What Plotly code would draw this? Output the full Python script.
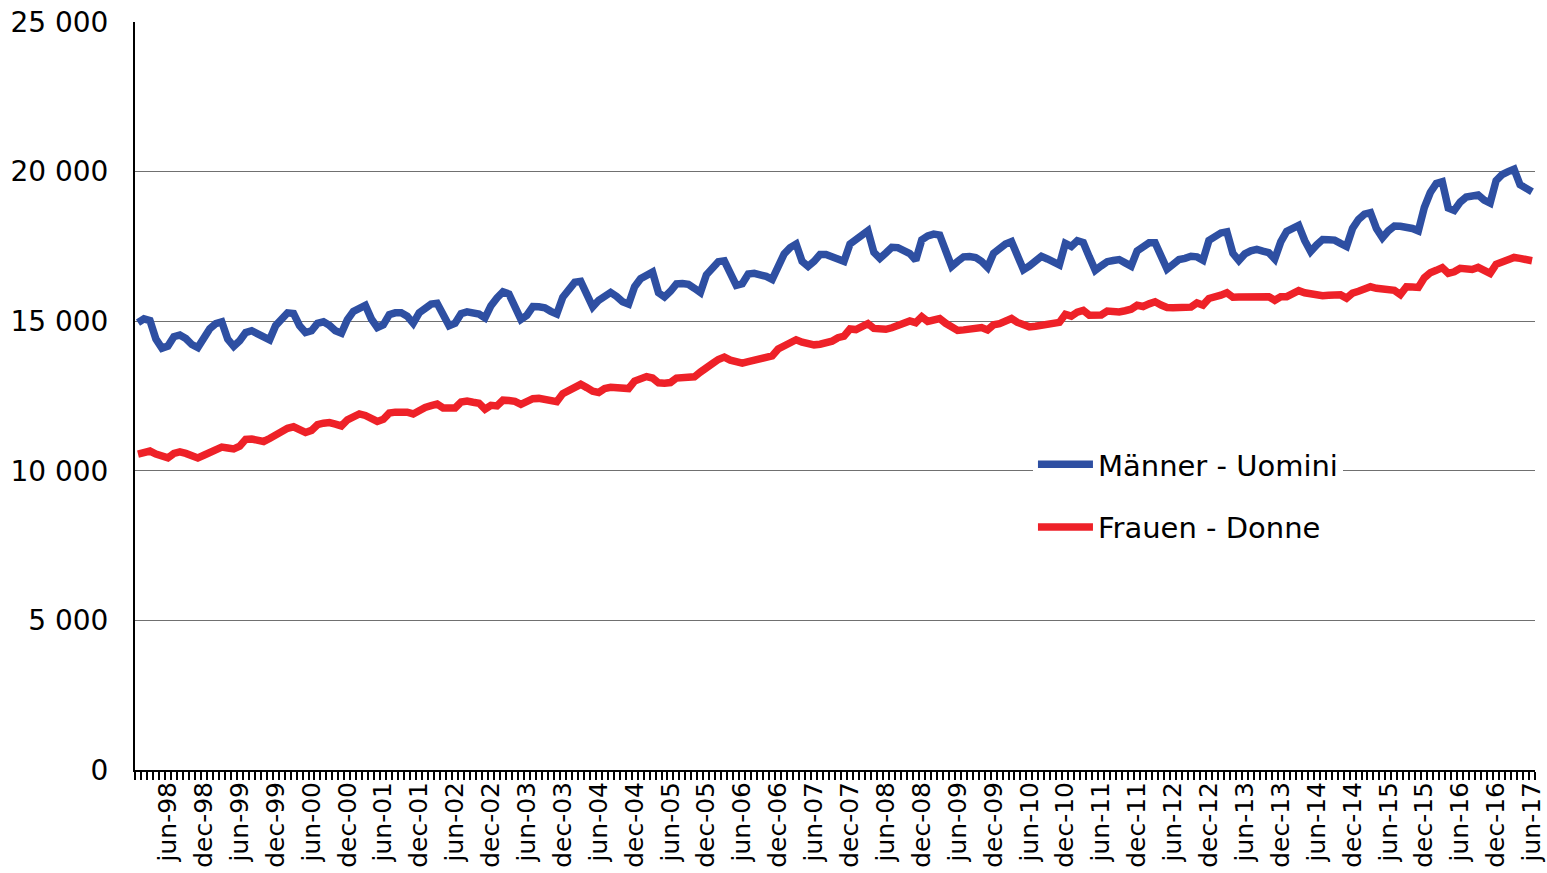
import plotly.graph_objects as go

month_abbr = ["jan", "feb", "mar", "apr", "may", "jun", "jul", "aug", "sep", "oct", "nov", "dec"]
years = list(range(1998, 2018))
months = [f"{m}-{y % 100:02d}" for y in years for m in month_abbr][:234]  # jan-98 .. jun-17

men = [
    14950, 15080, 15020, 14400, 14100, 14170, 14480, 14540, 14420, 14220, 14120, 14400,
    14750, 14920, 14980, 14400, 14160, 14350, 14620, 14680, 14560, 14450, 14380, 14850,
    15080, 15280, 15260, 14850, 14620, 14680, 14930, 14980, 14860, 14680, 14600, 15050,
    15330, 15450, 15530, 15080, 14790, 14880, 15220, 15280, 15280, 15170, 14930, 15280,
    15460, 15570, 15600, 15150, 14850, 14930, 15250, 15310, 15300, 15240, 15110, 15520,
    15780, 15980, 15910, 15400, 15060, 15200, 15490, 15480, 15450, 15330, 15240, 15800,
    16060, 16300, 16330, 15850, 15480, 15700, 15870, 15960, 15830, 15650, 15570, 16150,
    16420, 16560, 16640, 15950, 15810, 16000, 16250, 16260, 16230, 16100, 15960, 16550,
    16800, 16990, 17020, 16550, 16200, 16250, 16580, 16600, 16580, 16500, 16400, 16900,
    17250, 17460, 17580, 17000, 16830, 17000, 17230, 17230, 17170, 17080, 17000, 17580,
    17750, 17900, 18020, 17300, 17100, 17280, 17470, 17460, 17360, 17260, 17040, 17720,
    17850, 17910, 17880, 17300, 16830, 17000, 17150, 17160, 17130, 17000, 16800, 17270,
    17450, 17580, 17660, 17200, 16720, 16850, 17000, 17170, 17080, 16950, 16880, 17600,
    17500, 17690, 17630, 17150, 16700, 16850, 16990, 17030, 17060, 16950, 16840, 17350,
    17500, 17620, 17620, 17150, 16740, 16900, 17060, 17100, 17170, 17150, 17040, 17700,
    17850, 17950, 17990, 17270, 17030, 17250, 17350, 17400, 17340, 17290, 17080, 17650,
    18000, 18120, 18200, 17700, 17330, 17550, 17730, 17720, 17710, 17600, 17500, 18100,
    18400, 18580, 18630, 18100, 17790, 18020, 18180, 18170, 18150, 18100, 18020, 18800,
    19300, 19600, 19660, 18780, 18700, 18980, 19150, 19190, 19220, 19050, 18950, 19700,
    19900, 20000, 20080, 19560, 19450, 19330,
]

women = [
    10560, 10620, 10660, 10560, 10470, 10430, 10580, 10630, 10580, 10500, 10430, 10520,
    10600, 10740, 10790, 10760, 10730, 10820, 11050, 11060, 11020, 10980, 11080, 11200,
    11290, 11420, 11470, 11360, 11280, 11350, 11540, 11590, 11610, 11560, 11500, 11700,
    11820, 11900, 11850, 11740, 11650, 11720, 11930, 11960, 11980, 11960, 11900, 12040,
    12120, 12180, 12230, 12100, 12080, 12100, 12300, 12330, 12290, 12260, 12060, 12190,
    12170, 12360, 12350, 12320, 12220, 12300, 12410, 12420, 12400, 12390, 12310, 12580,
    12700, 12820, 12890, 12780, 12660, 12620, 12750, 12790, 12770, 12760, 12750, 13000,
    13060, 13150, 13100, 12940, 12930, 12950, 13100, 13130, 13150, 13140, 13300, 13480,
    13580, 13720, 13800, 13700, 13640, 13600, 13650, 13700, 13780, 13840, 13840, 14070,
    14160, 14290, 14380, 14300, 14240, 14210, 14230, 14260, 14330, 14450, 14500, 14740,
    14720, 14820, 14920, 14760, 14730, 14730, 14780, 14870, 14940, 15010, 14950, 15150,
    14990, 15050, 15090, 14930, 14780, 14690, 14710, 14730, 14760, 14790, 14710, 14880,
    14920, 15000, 15090, 14960, 14860, 14810, 14830, 14850, 14880, 14920, 14960, 15230,
    15170, 15300, 15360, 15200, 15190, 15210, 15340, 15320, 15310, 15350, 15400, 15530,
    15490, 15580, 15650, 15540, 15460, 15450, 15440, 15440, 15470, 15610, 15540, 15760,
    15790, 15870, 15950, 15800, 15810, 15820, 15820, 15830, 15820, 15820, 15700, 15820,
    15820, 15920, 16020, 15950, 15900, 15870, 15850, 15870, 15900, 15880, 15770, 15940,
    16000, 16080, 16150, 16100, 16060, 16040, 16030, 15890, 16150, 16140, 16130, 16450,
    16620, 16700, 16790, 16600, 16650, 16770, 16740, 16730, 16800, 16700, 16600, 16900,
    16990, 17080, 17130, 17100, 17070, 17020,
]

y_max = 25000
y_step = 5000
tick_text = [m if m.startswith(("jun", "dec")) else "" for m in months]

FONT = "DejaVu Sans"

fig = go.Figure()
fig.add_trace(go.Scatter(
    x=months, y=men, mode="lines", name="Männer - Uomini",
    line=dict(color="#2E4FA2", width=7.5), legendgroup="m",
))
fig.add_trace(go.Scatter(
    x=months, y=women, mode="lines", name="Frauen - Donne",
    line=dict(color="#EE2128", width=7.5), legendgroup="w",
))

fig.update_layout(
    width=1547, height=873,
    margin=dict(l=135, r=12, t=22, b=103),
    paper_bgcolor="white", plot_bgcolor="white",
    separators=", ",
    font=dict(family=FONT, color="black"),
    showlegend=True,
    legend=dict(
        x=0.6414, y=0.4425, xanchor="left", yanchor="top",
        bgcolor="white", font=dict(size=29, family=FONT),
        tracegroupgap=22, itemwidth=55,
    ),
    xaxis=dict(
        type="category", automargin=False,
        tickmode="array", tickvals=months, ticktext=tick_text,
        tickson="boundaries", ticks="outside", ticklen=8, tickwidth=1.5,
        tickcolor="black", tickangle=-90,
        tickfont=dict(size=25, family=FONT),
        showline=True, linecolor="black", linewidth=2,
        showgrid=False, zeroline=False,
        range=[-0.5, len(months) - 0.5],
    ),
    yaxis=dict(
        automargin=False,
        range=[0, y_max], tickmode="linear", tick0=0, dtick=y_step,
        tickformat=",d", tickfont=dict(size=28, family=FONT),
        showgrid=True, gridcolor="#707070", gridwidth=1,
        showline=True, linecolor="black", linewidth=2,
        zeroline=False, ticks="", ticklabelstandoff=19,
        ticklabeloverflow="allow",
    ),
)

# remove the default 8px page margin so the figure fills the window exactly
fig.write_html(
    "out.html",
    config={"displayModeBar": False},
    post_script="document.body.style.margin='0';document.body.style.overflow='hidden';",
)
